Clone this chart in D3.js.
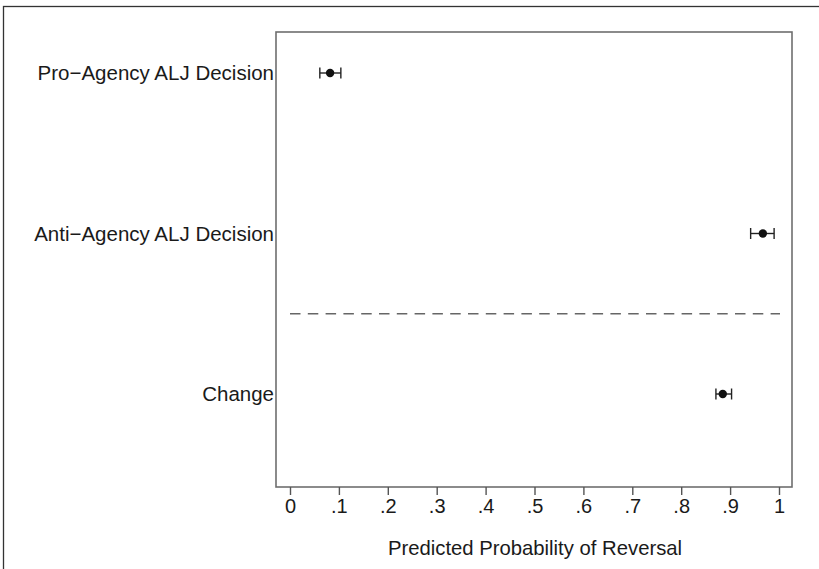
<!DOCTYPE html>
<html><head><meta charset="utf-8">
<script src="https://cdn.jsdelivr.net/npm/d3@7"></script>
<style>body{margin:0;background:#fff}svg{display:block}text{font-family:"Liberation Sans",Arial,Helvetica,sans-serif;fill:#1a1a1a}</style>
</head><body><svg id="c" width="819" height="569"></svg>
<script>
const categories = ["Pro\u2212Agency ALJ Decision", "Anti\u2212Agency ALJ Decision", "Change"];
const rowIndex = [0, 2, 4];
const estimates = [0.082, 0.967, 0.885];
const lower = [0.061, 0.942, 0.871];
const upper = [0.104, 0.990, 0.903];
const separatorRow = 3;
const tickValues = [0, 0.1, 0.2, 0.3, 0.4, 0.5, 0.6, 0.7, 0.8, 0.9, 1];
const tickLabels = ["0", ".1", ".2", ".3", ".4", ".5", ".6", ".7", ".8", ".9", "1"];
const xTitle = "Predicted Probability of Reversal";

const svg = d3.select("#c");
const box = {left: 276, right: 792, top: 32, bottom: 487};
const x = d3.scaleLinear().domain([0, 1]).range([290, 779]);
const y = d3.scaleLinear().domain([0, 4]).range([73, 394]);

// outer frame
svg.append("rect").attr("x", 3.5).attr("y", 6.5).attr("width", 830).attr("height", 600)
  .attr("fill", "none").attr("stroke", "#333").attr("stroke-width", 1.3);

// plot frame
svg.append("rect").attr("x", box.left).attr("y", box.top)
  .attr("width", box.right - box.left).attr("height", box.bottom - box.top)
  .attr("fill", "none").attr("stroke", "#6e6e6e").attr("stroke-width", 1.6);

// x axis
const ax = svg.append("g").attr("transform", `translate(0,${box.bottom})`)
  .call(d3.axisBottom(x).tickValues(tickValues).tickFormat((d, i) => tickLabels[i]).tickSize(8).tickSizeOuter(0).tickPadding(4));
ax.select(".domain").remove();
ax.selectAll(".tick line").attr("stroke", "#555").attr("stroke-width", 1.4);
ax.selectAll(".tick text").style("font-size", "20px").attr("fill", "#1a1a1a");

svg.append("text").attr("x", (box.left + box.right) / 2 + 1).attr("y", 555)
  .attr("text-anchor", "middle").style("font-size", "20.3px").text(xTitle);

// y labels
svg.selectAll(".ylab").data(categories).enter().append("text")
  .attr("class", "ylab").attr("x", 274).attr("y", (d, i) => y(rowIndex[i]))
  .attr("dy", "0.35em").attr("text-anchor", "end").style("font-size", "20.5px").text(d => d);

// separator
svg.append("line").attr("x1", x(0)).attr("x2", x(1) + 1).attr("y1", y(separatorRow)).attr("y2", y(separatorRow))
  .attr("stroke", "#666").attr("stroke-width", 1.6).attr("stroke-dasharray", "10.5,7.3");

// error bars
const g = svg.append("g");
categories.forEach((c, i) => {
  const yy = y(rowIndex[i]);
  g.append("line").attr("x1", x(lower[i])).attr("x2", x(upper[i])).attr("y1", yy).attr("y2", yy)
    .attr("stroke", "#222").attr("stroke-width", 1.4);
  [lower[i], upper[i]].forEach(v => {
    g.append("line").attr("x1", x(v)).attr("x2", x(v)).attr("y1", yy - 5.5).attr("y2", yy + 5.5)
      .attr("stroke", "#222").attr("stroke-width", 1.4);
  });
  g.append("circle").attr("cx", x(estimates[i])).attr("cy", yy).attr("r", 4.2).attr("fill", "#111");
});
</script></body></html>
